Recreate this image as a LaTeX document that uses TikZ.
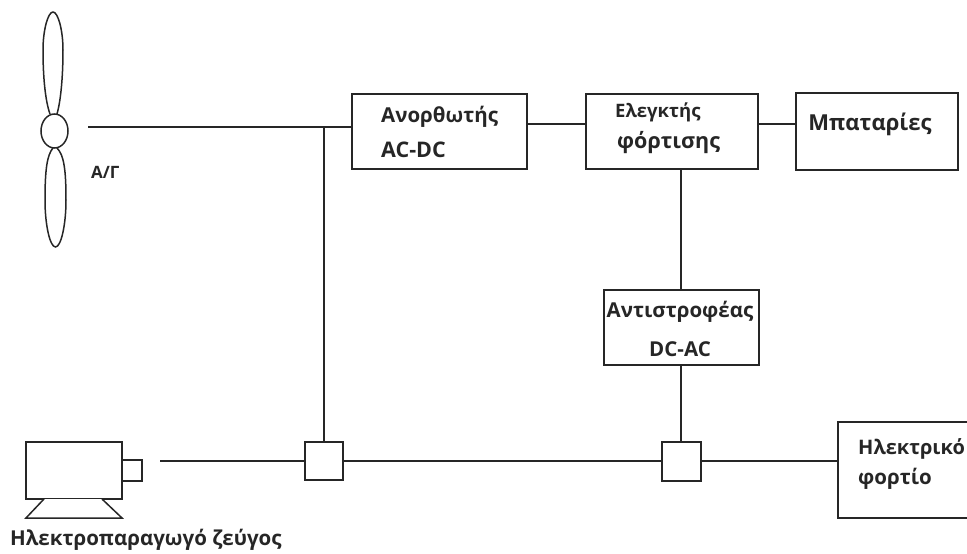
\documentclass[tikz,border=0pt]{standalone}
\usepackage{fontspec}
\usetikzlibrary{shapes.geometric}
\setmainfont{Open Sans}[BoldFont={Open Sans Bold}]
\tikzset{
  wire/.style={draw=black!85,line width=2pt},
  blockbox/.style={draw=black!85,line width=2pt,fill=white,inner sep=0pt,outer sep=0pt},
  blocktext/.style={font=\fontsize{20.5}{24}\selectfont\bfseries,text=black!85,align=left,inner sep=0pt},
  outline/.style={draw=black!85,line width=1.5pt,fill=white}
}
\begin{document}
\begin{tikzpicture}[x=1pt,y=-1pt]
\useasboundingbox (0,0) rectangle (967,554);
% boxes
\node[blockbox,minimum width=175pt,minimum height=75pt] (rect) at (439.5,131) {};
\node[blockbox,minimum width=172pt,minimum height=75pt] (ctrl) at (672,131) {};
\node[blockbox,minimum width=162pt,minimum height=77pt] (batt) at (877,131.5) {};
\node[blockbox,minimum width=155pt,minimum height=75pt] (inv) at (681,327) {};
\node[blockbox,minimum width=131pt,minimum height=96pt] (load) at (903.5,470) {};
\node[blockbox,minimum width=38pt,minimum height=38pt] (swa) at (324,461) {};
\node[blockbox,minimum width=39pt,minimum height=39pt] (swb) at (681,461) {};
% labels
\node[blocktext,anchor=west] (t1) at (381,117) {Ανορθωτής};
\node[blocktext,anchor=west,font=\fontsize{21.5}{24}\selectfont\bfseries] (t2) at (381,150) {AC-DC};
\node[blocktext,anchor=west,font=\fontsize{18.5}{24}\selectfont\bfseries] (t3) at (615,112) {Ελεγκτής};
\node[blocktext,anchor=west,font=\fontsize{21.5}{24}\selectfont\bfseries] (t4) at (617,143) {φόρτισης};
\node[blocktext,anchor=center,font=\fontsize{22}{24}\selectfont\bfseries] (t5) at (870,124) {Μπαταρίες};
\node[blocktext,anchor=center] (t6) at (680,312) {Αντιστροφέας};
\node[blocktext,anchor=center] (t7) at (680,349) {DC-AC};
\node[blocktext,anchor=west,font=\fontsize{20}{24}\selectfont\bfseries] (t8) at (858,449) {Ηλεκτρικό};
\node[blocktext,anchor=west] (t9) at (858,479) {φορτίο};
\node[blocktext,anchor=west,font=\fontsize{17}{20}\selectfont\bfseries] (ag) at (91,172) {Α/Γ};
\node[blocktext,anchor=west] (gen) at (10,540) {Ηλεκτροπαραγωγό ζεύγος};
% wind turbine
\node[outline,ellipse,minimum width=27pt,minimum height=34pt,inner sep=0pt] (hub) at (54.5,131) {};
\coordinate (free) at (88,127);
\draw[outline,fill=none] (50,114) .. controls (45,100) and (43,75) .. (43,50) .. controls (43,30) and (48,12) .. (53,12) .. controls (58,12) and (63,30) .. (63,50) .. controls (63,75) and (61,100) .. (57,114);
\draw[outline,fill=none] (53,148) .. controls (47,155) and (45,170) .. (45,200) .. controls (45,225) and (50,247) .. (55.5,247) .. controls (61,247) and (66,225) .. (66,200) .. controls (66,170) and (64,155) .. (57,148);
% generator
\draw[outline] (26,442) rectangle (122,499);
\draw[outline] (122,460) rectangle (142,481);
\draw[outline] (44,499) -- (26,518) -- (122,518) -- (102,499);
\coordinate (gout) at (160,461);
% connectors
\coordinate (tap) at (324,127);
\draw[wire] (free) -- (rect.west |- free);
\draw[wire] (tap) -- (tap |- swa.north);
\draw[wire] (rect.east |- 0,124) -- (ctrl.west |- 0,124);
\draw[wire] (ctrl.east |- 0,124) -- (batt.west |- 0,124);
\draw[wire] (inv.north |- ctrl.south) -- (inv.north);
\draw[wire] (inv.south) -- (swb.north);
\draw[wire] (gout) -- (swa.west);
\draw[wire] (swa.east) -- (swb.west);
\draw[wire] (swb.east) -- (load.west |- swb.east);
\end{tikzpicture}
\end{document}
